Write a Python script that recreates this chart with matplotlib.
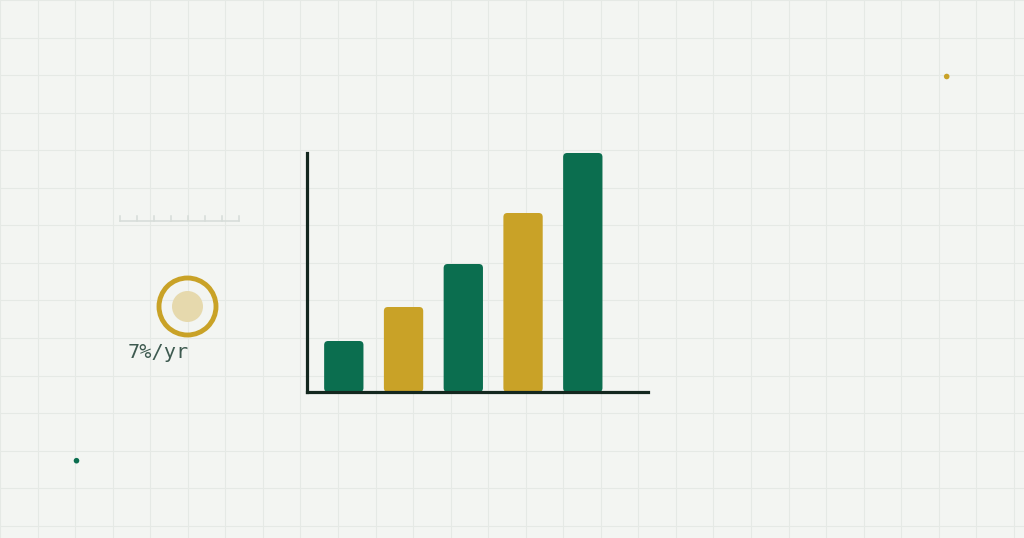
import numpy as np
import matplotlib
matplotlib.use("Agg")
import matplotlib.pyplot as plt
from matplotlib.patches import FancyBboxPatch, Circle

# ── data ──────────────────────────────────────────────────────────────────────
bar_values = [51, 85, 128, 179, 239]
bar_colors = ["#0b6e4f", "#c9a227", "#0b6e4f", "#c9a227", "#0b6e4f"]
rate_label = "7%/yr"

# ── style ─────────────────────────────────────────────────────────────────────
BG = "#f3f5f2"
GRID = "#e5e9e5"
INK = "#13271e"
GREEN = "#0b6e4f"
GOLD = "#c9a227"

W, H = 1024, 538
fig = plt.figure(figsize=(W / 100, H / 100), dpi=100)
fig.patch.set_facecolor(BG)

# background layer in pixel coordinates
bg = fig.add_axes([0, 0, 1, 1])
bg.set_xlim(0, W)
bg.set_ylim(H, 0)
bg.axis("off")
bg.set_facecolor(BG)

step = 37.55
for gx in np.arange(0, W + 1, step):
    bg.axvline(gx, color=GRID, lw=0.8, zorder=0)
for gy in np.arange(0, H + 1, step):
    bg.axhline(gy, color=GRID, lw=0.8, zorder=0)

# little ruler
ruler_x = np.linspace(119.5, 238.5, 8)
bg.plot([ruler_x[0], ruler_x[-1]], [221, 221], color="#d6dcd8", lw=1.1, zorder=1)
for rx in ruler_x:
    bg.plot([rx, rx], [216, 221], color="#d6dcd8", lw=1.1, zorder=1)

# ring + dot
bg.add_patch(Circle((187.5, 306.5), 28.5, fill=False, ec=GOLD, lw=3.5, zorder=2))
bg.add_patch(Circle((187.5, 306.5), 15.5, fc="#e6d9ad", ec="none", zorder=2))
bg.text(128, 352, rate_label, fontsize=14.6, family="DejaVu Sans Mono",
        color="#3e5a50", ha="left", va="center", zorder=3)

# scattered dots
bg.add_patch(Circle((946.7, 76.5), 2.8, fc=GOLD, ec="none", zorder=2))
bg.add_patch(Circle((76.5, 460.7), 2.8, fc=GREEN, ec="none", zorder=2))

# ── bar chart ─────────────────────────────────────────────────────────────────
left, right, top, base = 307, 648, 153.3, 392
ax = fig.add_axes([left / W, (H - base) / H, (right - left) / W, (base - top) / H])
ax.set_facecolor("none")
pitch = 59.75
x0 = 36.8 / pitch
ax.set_xlim(-x0, (right - left) / pitch - x0)
ax.set_ylim(0, base - top)

bars = ax.bar(range(len(bar_values)), bar_values, width=0.658, color=bar_colors)
r_px = 4.0
for b in bars:
    b.set_visible(False)
    ax.add_patch(FancyBboxPatch(
        (b.get_x(), b.get_y()), b.get_width(), b.get_height(),
        boxstyle=f"round,pad=0,rounding_size={r_px / pitch}",
        mutation_aspect=pitch, fc=b.get_facecolor(), ec="none", zorder=2))

for s in ["top", "right"]:
    ax.spines[s].set_visible(False)
for s in ["left", "bottom"]:
    ax.spines[s].set_color(INK)
    ax.spines[s].set_linewidth(2.3)
    ax.spines[s].set_zorder(3)
ax.set_xticks([])
ax.set_yticks([])

fig.savefig("out.png", dpi=100, facecolor=BG)
